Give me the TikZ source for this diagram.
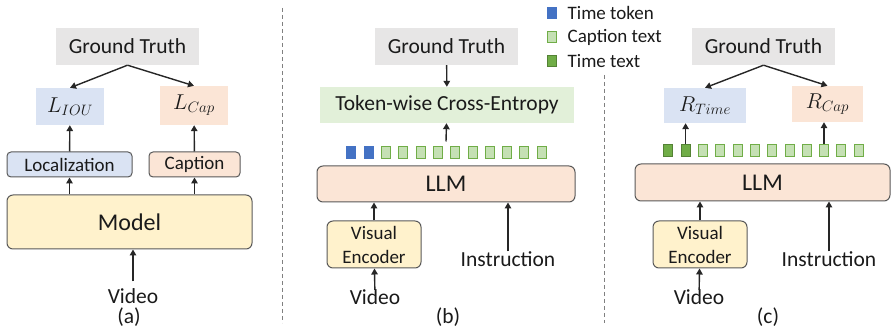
\RequirePackage{fix-cm}
\documentclass[tikz,border=0pt]{standalone}
\usepackage{fontspec}
\setmainfont{Carlito}
\usetikzlibrary{arrows.meta}

\definecolor{gtgray}{HTML}{E7E6E6}
\definecolor{lblue}{HTML}{DAE3F3}
\definecolor{lpeach}{HTML}{FBE5D6}
\definecolor{lyellow}{HTML}{FFF2CC}
\definecolor{lgreen}{HTML}{E2F0D9}
\definecolor{tokblue}{HTML}{4472C4}
\definecolor{toklight}{HTML}{C5E0B4}
\definecolor{tokgreen}{HTML}{70AD47}
\definecolor{tokdeep}{HTML}{548235}
\definecolor{boxedge}{HTML}{595959}
\definecolor{arrcol}{HTML}{262626}
\definecolor{txtcol}{HTML}{1A1A1A}

\begin{document}
\begin{tikzpicture}[x=1pt, y=-1pt,
    every node/.style={text=txtcol},
    flat/.style={fill=#1, inner sep=0pt, font=\fontsize{21.5}{24}\selectfont},
    rbox/.style={draw=boxedge, line width=1pt, rounded corners=4pt, fill=#1, inner sep=0pt,
      align=center, font=\fontsize{19}{24}\selectfont},
    lbl/.style={inner sep=0pt, font=\fontsize{21.5}{24}\selectfont},
    legtxt/.style={inner sep=0pt, anchor=west, font=\fontsize{19}{22}\selectfont},
    tokb/.style={draw=tokblue, fill=tokblue, line width=0.8pt, minimum width=9pt, minimum height=12pt, inner sep=0pt},
    tokc/.style={draw=tokgreen, fill=toklight, line width=0.8pt, minimum width=9pt, minimum height=12pt, inner sep=0pt},
    tokt/.style={draw=tokdeep, fill=tokgreen, line width=0.8pt, minimum width=9pt, minimum height=12pt, inner sep=0pt},
    arr/.style={draw=arrcol, line width=1.4pt, -{Triangle[length=6pt,width=6.5pt]}},
    divider/.style={draw=gray, line width=1pt, dash pattern=on 4pt off 3pt}
  ]
  \useasboundingbox (0,0) rectangle (891,328);

  % (a) separate heads
  \node[flat=gtgray, minimum width=143pt, minimum height=37pt] (gta) at (127.5,46.5) {Ground Truth};
  \node[flat=lblue, minimum width=68pt, minimum height=37pt, font=\fontsize{21.5}{24}\selectfont] (liou) at (70,106.5) {$L_{IOU}$};
  \node[flat=lpeach, minimum width=68pt, minimum height=39pt, font=\fontsize{21.5}{24}\selectfont] (lcap) at (194,105.5) {$L_{Cap}$};
  \node[rbox=lblue, minimum width=125pt, minimum height=25pt] (loc) at (69.5,164.5) {Localization};
  \node[rbox=lpeach, minimum width=91pt, minimum height=25pt] (cap) at (194.5,164.5) {Caption};
  \node[rbox=lyellow, rounded corners=6pt, minimum width=245pt, minimum height=54pt,
    font=\fontsize{24}{26}\selectfont] (model) at (129.5,222) {Model};
  \node[lbl] (vida) at (133,296) {Video};
  \node[lbl] (capa) at (129,317.5) {(a)};
  \draw[arr] (gta.south) -- (liou.north);
  \draw[arr] (gta.south) -- (lcap.north);
  \draw[arr] (loc) -- (liou);
  \draw[arr] (cap) -- (lcap);
  \draw[arr] (loc.south |- model.north) -- (loc.south);
  \draw[arr] (cap.south |- model.north) -- (cap.south);
  \draw[arr, shorten <=7pt] (vida.north) -- (vida.north |- model.south);

  \draw[divider] (282,8) -- (282,323);

  % (b) token-wise loss
  \node[flat=gtgray, minimum width=143pt, minimum height=37pt] (gtb) at (446.5,46.5) {Ground Truth};
  \node[flat=lgreen, minimum width=254pt, minimum height=36pt] (tce) at (447,105) {Token-wise Cross-Entropy};
  \foreach \i in {1,2}
    \node[tokb] (tb\i) at ({351.3+(\i-1)*17.3},152.7) {};
  \foreach \i in {3,...,12}
    \node[tokc] (tb\i) at ({351.3+(\i-1)*17.3},152.7) {};
  \coordinate (tbtop) at (446,141.5);
  \node[rbox=lpeach, rounded corners=6pt, minimum width=258pt, minimum height=36pt,
    font=\fontsize{24}{26}\selectfont] (llmb) at (446,184) {LLM};
  \node[rbox=lyellow, rounded corners=6pt, minimum width=94pt, minimum height=47pt] (veb) at (374,244.5) {Visual\\Encoder};
  \node[lbl] (vidb) at (375,297.5) {Video};
  \node[lbl] (insb) at (508,259) {Instruction};
  \node[lbl] (capb) at (448,317.5) {(b)};
  \draw[arr] (gtb) -- (tce);
  \draw[arr] (tbtop) -- (tce);
  \draw[arr] (veb.north) -- (veb.north |- llmb.south);
  \draw[arr] (insb.north) -- (insb.north |- llmb.south);
  \draw[arr] (vidb) -- (veb);

  % token legend
  \node[tokb, minimum height=11pt] (legb) at (551.7,12.8) {};
  \node[tokc, minimum height=11pt] (legc) at (551.7,37.2) {};
  \node[tokt, minimum height=11pt] (legt) at (551.7,60.8) {};
  \node[legtxt] (legbt) at (567.5,12.8) {Time token};
  \node[legtxt] (legct) at (567.5,37.2) {Caption text};
  \node[legtxt] (legtt) at (567.5,60.8) {Time text};

  \draw[divider] (604,75) -- (604,323);

  % (c) reward heads
  \node[flat=gtgray, minimum width=143pt, minimum height=37pt] (gtc) at (763.5,46.5) {Ground Truth};
  \node[flat=lblue, minimum width=82pt, minimum height=35pt, font=\fontsize{21.5}{24}\selectfont] (rtime) at (705,105.5) {$R_{Time}$};
  \node[flat=lpeach, minimum width=71pt, minimum height=36pt, font=\fontsize{21.5}{24}\selectfont] (rcap) at (827.5,104) {$R_{Cap}$};
  \foreach \i in {1,2}
    \node[tokt] (tc\i) at ({668.3+(\i-1)*17.3},150) {};
  \foreach \i in {3,...,12}
    \node[tokc] (tc\i) at ({668.3+(\i-1)*17.3},150) {};
  \node[rbox=lpeach, rounded corners=6pt, minimum width=255pt, minimum height=37pt,
    font=\fontsize{24}{26}\selectfont] (llmc) at (762.5,182.5) {LLM};
  \node[rbox=lyellow, rounded corners=6pt, minimum width=94pt, minimum height=47pt] (vec) at (700,244.5) {Visual\\Encoder};
  \node[lbl] (vidc) at (699,297.5) {Video};
  \node[lbl] (insc) at (829,259) {Instruction};
  \node[lbl] (capc) at (768,317.5) {(c)};
  \draw[arr] (gtc.south) -- (rtime.north);
  \draw[arr] (gtc.south) -- (rcap.north);
  \draw[arr] (tc2.north) -- (tc2.north |- rtime.south);
  \draw[arr] (tc10.north) -- (tc10.north |- rcap.south);
  \draw[arr] (vec.north) -- (vec.north |- llmc.south);
  \draw[arr] (insc.north) -- (insc.north |- llmc.south);
  \draw[arr] (vidc) -- (vec);
\end{tikzpicture}
\end{document}
